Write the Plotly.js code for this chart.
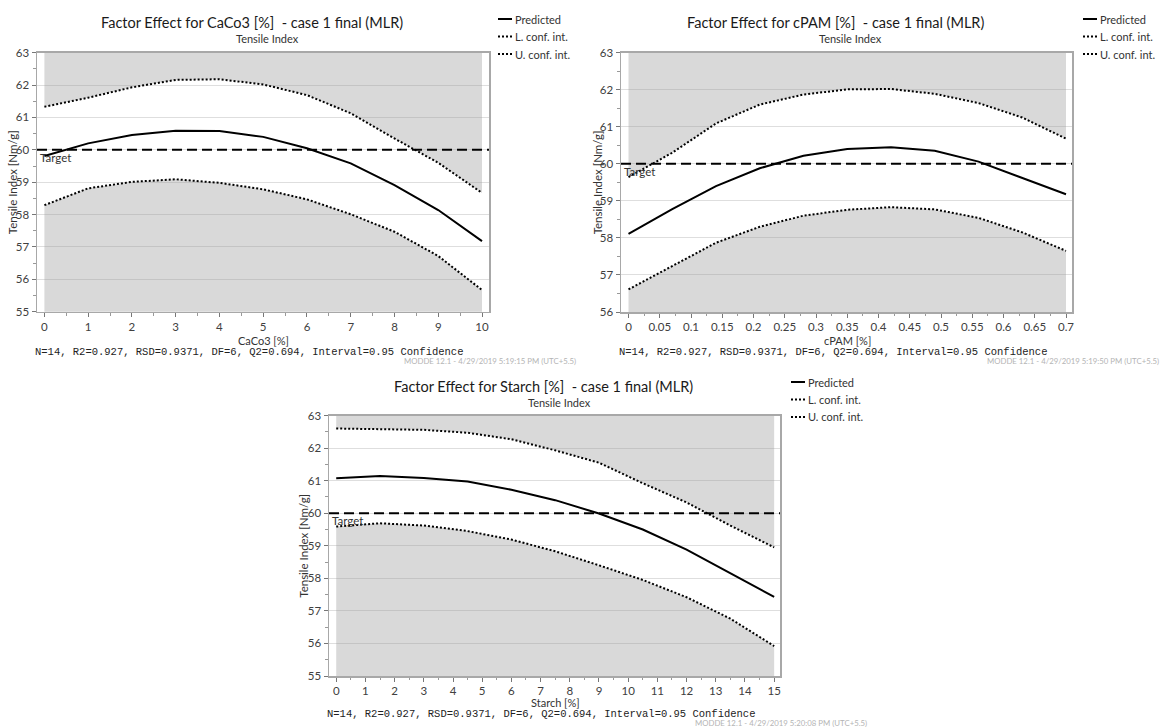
<!DOCTYPE html>
<html><head><meta charset="utf-8">
<script src="https://cdn.plot.ly/plotly-3.0.1.min.js"></script>
<style>html,body{margin:0;padding:0;background:#fff}#chart{width:1161px;height:727px}</style>
</head><body><div id="chart"></div>
<script>
// ---------- data ----------
const caco3X = [0, 1, 2, 3, 4, 5, 6, 7, 8, 9, 10];
const caco3Predicted = [59.81, 60.20, 60.46, 60.59, 60.58, 60.40, 60.05, 59.58, 58.91, 58.14, 57.18];
const caco3Lower = [58.29, 58.81, 59.01, 59.09, 58.98, 58.78, 58.47, 58.01, 57.47, 56.72, 55.67];
const caco3Upper = [61.33, 61.61, 61.93, 62.16, 62.18, 62.02, 61.69, 61.13, 60.35, 59.60, 58.67];

const cpamX = [0, 0.07, 0.14, 0.21, 0.28, 0.35, 0.42, 0.49, 0.56, 0.63, 0.7];
const cpamPredicted = [58.11, 58.78, 59.40, 59.88, 60.22, 60.40, 60.45, 60.35, 60.06, 59.63, 59.18];
const cpamLower = [56.61, 57.25, 57.87, 58.30, 58.60, 58.76, 58.83, 58.77, 58.54, 58.15, 57.65];
const cpamUpper = [59.64, 60.30, 61.09, 61.60, 61.87, 62.01, 62.02, 61.89, 61.64, 61.25, 60.68];

const starchX = [0, 1.5, 3, 4.5, 6, 7.5, 9, 10.5, 12, 13.5, 15];
const starchPredicted = [61.07, 61.14, 61.08, 60.97, 60.72, 60.40, 59.99, 59.50, 58.88, 58.15, 57.43];
const starchLower = [59.59, 59.69, 59.62, 59.45, 59.19, 58.83, 58.40, 57.95, 57.42, 56.76, 55.92];
const starchUpper = [62.60, 62.59, 62.56, 62.47, 62.27, 61.93, 61.55, 60.92, 60.33, 59.62, 58.95];

const target = 60;
const panelTitles = ['Factor Effect for CaCo3 [%]  - case 1 final (MLR)',
                     'Factor Effect for cPAM [%]  - case 1 final (MLR)',
                     'Factor Effect for Starch [%]  - case 1 final (MLR)'];
const subtitle = 'Tensile Index';
const xTitles = ['CaCo3 [%]', 'cPAM [%]', 'Starch [%]'];
const yTitle = 'Tensile Index [Nm/g]';
const legendLabels = ['Predicted', 'L. conf. int.', 'U. conf. int.'];
const footnote = 'N=14, R2=0.927, RSD=0.9371, DF=6, Q2=0.694, Interval=0.95 Confidence';
const stamps = ['MODDE 12.1 - 4/29/2019 5:19:15 PM (UTC+5.5)',
                'MODDE 12.1 - 4/29/2019 5:19:50 PM (UTC+5.5)',
                'MODDE 12.1 - 4/29/2019 5:20:08 PM (UTC+5.5)'];

// ---------- layout / style ----------
const W = 1161, H = 727;
const px = v => v / W;
const py = v => 1 - v / H;
const FONT = 'Lato, Noto Sans, sans-serif';
const MONO = 'Liberation Mono, DejaVu Sans Mono, monospace';
const FILL = 'rgba(150,150,150,0.36)';

const panels = [
  {x: caco3X, pred: caco3Predicted, lo: caco3Lower, up: caco3Upper,
   box: [37, 52.7, 489, 311.7], xr: [-0.169, 10.16], yr: [55, 63], dx: 1, mx: 0.5,
   tx: 252, ty: 23, sx: 267, sy: 39, lx: 498, ly: 19, yx: 12, xtx: 263, xty: 340.5,
   fx: 34, fy: 352, stx: 577, sty: 361},
  {x: cpamX, pred: cpamPredicted, lo: cpamLower, up: cpamUpper,
   box: [621, 52.7, 1072, 312], xr: [-0.012, 0.7096], yr: [56, 63], dx: 0.05, mx: 0.025,
   tx: 835.5, ty: 23, sx: 851, sy: 39, lx: 1083, ly: 19, yx: 597, xtx: 847, xty: 340.5,
   fx: 618, fy: 352, stx: 1160, sty: 361},
  {x: starchX, pred: starchPredicted, lo: starchLower, up: starchUpper,
   box: [329, 415.5, 780, 676], xr: [-0.247, 15.2], yr: [55, 63], dx: 1, mx: 0.5,
   tx: 543, ty: 386, sx: 559, sy: 402, lx: 791, ly: 382, yx: 304, xtx: 555, xty: 702.8,
   fx: 326, fy: 713.9, stx: 868, sty: 722.8}
];

const data = [];
const layout = {
  width: W, height: H, margin: {l: 0, r: 0, t: 0, b: 0},
  paper_bgcolor: '#fff', plot_bgcolor: '#fff', showlegend: false,
  font: {family: FONT, size: 11, color: '#333'},
  shapes: [], annotations: []
};

panels.forEach((p, i) => {
  const n = i === 0 ? '' : String(i + 1);
  const xa = 'x' + n, ya = 'y' + n;
  const topEdge = p.x.map(() => p.yr[1] + 10);
  const common = {xaxis: xa, yaxis: ya, mode: 'lines', hoverinfo: 'skip', showlegend: false};
  data.push(Object.assign({}, common, {x: p.x, y: p.lo, fill: 'tozeroy', fillcolor: FILL, line: {width: 0}}));
  data.push(Object.assign({}, common, {x: p.x, y: p.up, line: {width: 0}}));
  data.push(Object.assign({}, common, {x: p.x, y: topEdge, fill: 'tonexty', fillcolor: FILL, line: {width: 0}}));
  data.push(Object.assign({}, common, {name: legendLabels[0], x: p.x, y: p.pred, line: {color: '#000', width: 2}}));
  data.push(Object.assign({}, common, {name: legendLabels[1], x: p.x, y: p.lo, line: {color: '#000', width: 2, dash: '2px,2px'}}));
  data.push(Object.assign({}, common, {name: legendLabels[2], x: p.x, y: p.up, line: {color: '#000', width: 2, dash: '2px,2px'}}));

  const [x0, y0, x1, y1] = p.box;
  layout['xaxis' + n] = {
    domain: [px(x0), px(x1)], range: p.xr, anchor: ya,
    dtick: p.dx, tick0: 0, ticks: 'outside', ticklen: 4, tickcolor: '#777',
    minor: {dtick: p.mx, tick0: 0, ticks: 'outside', ticklen: 2.5, tickcolor: '#999', showgrid: false},
    showgrid: false, zeroline: false, showline: true, linecolor: '#a8a8a8', linewidth: 1.5, mirror: true,
    tickfont: {family: FONT, size: 11.5, color: '#404040'}
  };
  layout['yaxis' + n] = {
    domain: [py(y1), py(y0)], range: p.yr, anchor: xa,
    dtick: 1, ticks: 'outside', ticklen: 4, tickcolor: '#777',
    minor: {dtick: 0.5, ticks: 'outside', ticklen: 2.5, tickcolor: '#999', showgrid: false},
    showgrid: true, gridcolor: '#dedede', gridwidth: 1,
    zeroline: false, showline: true, linecolor: '#a8a8a8', linewidth: 1.5, mirror: true,
    tickfont: {family: FONT, size: 11.5, color: '#404040'}
  };

  // axis titles
  layout.annotations.push({xref: 'paper', yref: ya + ' domain', x: px(p.yx), y: 0.5, xanchor: 'center', yanchor: 'middle',
    textangle: -90, text: yTitle, showarrow: false, borderpad: 0, font: {family: FONT, size: 11.5, color: '#333'}});
  layout.annotations.push({xref: 'paper', yref: 'paper', x: px(p.xtx), y: py(p.xty), xanchor: 'center', yanchor: 'middle',
    text: xTitles[i], showarrow: false, borderpad: 0, font: {family: FONT, size: 11, color: '#333'}});

  // target line + label
  layout.shapes.push({type: 'line', xref: xa + ' domain', yref: ya, x0: 0, x1: 1, y0: target, y1: target,
    line: {color: '#000', width: 2, dash: '10px,5px'}, layer: 'above'});
  layout.annotations.push({xref: xa + ' domain', yref: ya, x: 0, y: target, xanchor: 'left', yanchor: 'top',
    xshift: 1, yshift: 1, text: 'Target', showarrow: false, font: {family: FONT, size: 11.5, color: '#333'}});

  // titles
  layout.annotations.push({xref: 'paper', yref: 'paper', x: px(p.tx), y: py(p.ty), xanchor: 'center', yanchor: 'middle',
    text: panelTitles[i], showarrow: false, font: {family: FONT, size: 14.5, color: '#1a1a1a'}});
  layout.annotations.push({xref: 'paper', yref: 'paper', x: px(p.sx), y: py(p.sy), xanchor: 'center', yanchor: 'middle',
    text: subtitle, showarrow: false, font: {family: FONT, size: 11, color: '#333'}});

  // legend (drawn per panel)
  legendLabels.forEach((lab, k) => {
    const yy = p.ly + k * 17.5;
    layout.shapes.push({type: 'line', xref: 'paper', yref: 'paper', x0: px(p.lx), x1: px(p.lx + 14), y0: py(yy), y1: py(yy),
      line: {color: '#000', width: 2, dash: k === 0 ? 'solid' : '2px,2px'}});
    layout.annotations.push({xref: 'paper', yref: 'paper', x: px(p.lx + 15), y: py(yy), xanchor: 'left', yanchor: 'middle',
      text: lab, showarrow: false, font: {family: FONT, size: 11, color: '#333'}});
  });

  // footnote + stamp
  layout.annotations.push({xref: 'paper', yref: 'paper', x: px(p.fx), y: py(p.fy), xanchor: 'left', yanchor: 'middle',
    text: footnote, showarrow: false, borderpad: 0, font: {family: MONO, size: 10.5, color: '#222'}});
  layout.annotations.push({xref: 'paper', yref: 'paper', x: px(p.stx), y: py(p.sty), xanchor: 'right', yanchor: 'middle',
    text: stamps[i], showarrow: false, borderpad: 0, font: {family: FONT, size: 7.8, color: '#b4b4b4'}});
});

Plotly.newPlot('chart', data, layout, {displayModeBar: false, staticPlot: true});
</script></body></html>
